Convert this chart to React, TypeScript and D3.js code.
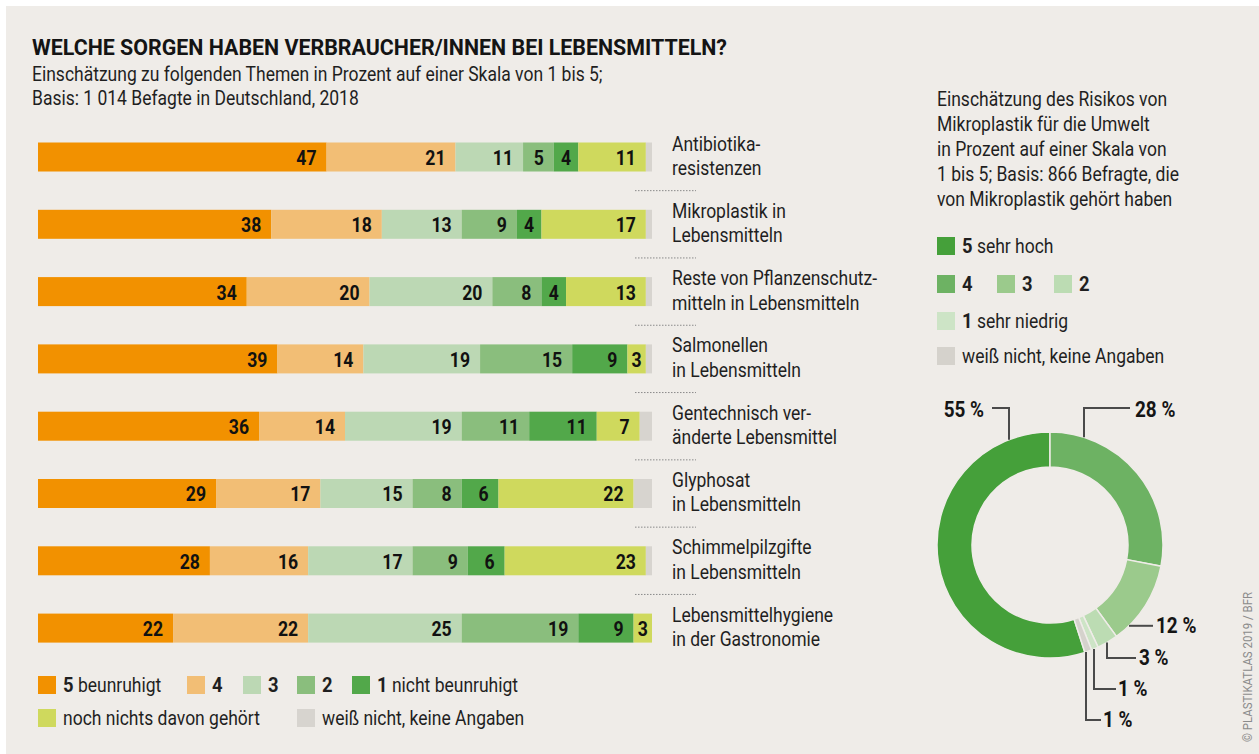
import React from "react";
import * as d3 from "d3";

// ---------- DATA ----------
const categories = [
  ["Antibiotika-", "resistenzen"],
  ["Mikroplastik in", "Lebensmitteln"],
  ["Reste von Pflanzenschutz-", "mitteln in Lebensmitteln"],
  ["Salmonellen", "in Lebensmitteln"],
  ["Gentechnisch ver-", "änderte Lebensmittel"],
  ["Glyphosat", "in Lebensmitteln"],
  ["Schimmelpilzgifte", "in Lebensmitteln"],
  ["Lebensmittelhygiene", "in der Gastronomie"],
];
const level5 = [47, 38, 34, 39, 36, 29, 28, 22];
const level4 = [21, 18, 20, 14, 14, 17, 16, 22];
const level3 = [11, 13, 20, 19, 19, 15, 17, 25];
const level2 = [5, 9, 8, 15, 11, 8, 9, 19];
const level1 = [4, 4, 4, 9, 11, 6, 6, 9];
const notHeard = [11, 17, 13, 3, 7, 22, 23, 3];
const noAnswer = [1, 1, 1, 1, 2, 3, 1, 0];

const seriesKeys = ["l5", "l4", "l3", "l2", "l1", "nh", "na"];
const seriesLegend = [
  { bold: "5", text: " beunruhigt" },
  { bold: "4", text: "" },
  { bold: "3", text: "" },
  { bold: "2", text: "" },
  { bold: "1", text: " nicht beunruhigt" },
  { bold: "", text: "noch nichts davon gehört" },
  { bold: "", text: "weiß nicht, keine Angaben" },
];

const donutKeys = ["r5", "r4", "r3", "r2", "r1", "na"];
const donutValues = [55, 28, 12, 3, 1, 1];
const donutLabels = ["55 %", "28 %", "12 %", "3 %", "1 %", "1 %"];
const donutLegend = [
  { bold: "5", text: " sehr hoch" },
  { bold: "4", text: "" },
  { bold: "3", text: "" },
  { bold: "2", text: "" },
  { bold: "1", text: " sehr niedrig" },
  { bold: "", text: "weiß nicht, keine Angaben" },
];

const title = "WELCHE SORGEN HABEN VERBRAUCHER/INNEN BEI LEBENSMITTELN?";
const subtitle = [
  "Einschätzung zu folgenden Themen in Prozent auf einer Skala von 1 bis 5;",
  "Basis: 1 014 Befagte in Deutschland, 2018",
];
const donutIntro = [
  "Einschätzung des Risikos von",
  "Mikroplastik für die Umwelt",
  "in Prozent auf einer Skala von",
  "1 bis 5; Basis: 866 Befragte, die",
  "von Mikroplastik gehört haben",
];
const credit = "© PLASTIKATLAS 2019 / BFR";

// ---------- STYLE ----------
const BG = "#efece8";
const TXT = "#1f1f1f";
const FONT = "Roboto, 'Noto Sans', sans-serif";
const barColors: Record<string, string> = {
  l5: "#f29100",
  l4: "#f2be75",
  l3: "#bcd8b4",
  l2: "#8abe7d",
  l1: "#52a84a",
  nh: "#cfd95d",
  na: "#d7d4cf",
};
const donutColors: Record<string, string> = {
  r5: "#45a03a",
  r4: "#6db263",
  r3: "#9bca8c",
  r2: "#bcdcb3",
  r1: "#cde4c6",
  na: "#d5d2cc",
};

const SX = 0.875;
const FS = 20;

function T(props: {
  x: number;
  y: number;
  size?: number;
  weight?: number;
  anchor?: string;
  fill?: string;
  sx?: number;
  children: React.ReactNode;
}) {
  const { x, y, size = FS, weight = 400, anchor = "start", fill = TXT, sx = SX, children } = props;
  return (
    <g transform={`translate(${x},${y}) scale(${sx},1)`}>
      <text x={0} y={0} fontSize={size} fontWeight={weight} textAnchor={anchor} fill={fill} fontFamily={FONT}>
        {children}
      </text>
    </g>
  );
}

function LegendItem({ x, y, color, bold, text }: { x: number; y: number; color: string; bold: string; text: string }) {
  return (
    <g>
      <rect x={x} y={y} width={18} height={18} fill={color} />
      <T x={x + 25} y={y + 16}>
        {bold ? (
          <tspan fontWeight={700} fontSize={21}>
            {bold}
          </tspan>
        ) : null}
        {text ? <tspan>{text}</tspan> : null}
      </T>
    </g>
  );
}

export default function App() {
  const W = 1259;
  const H = 754;

  const rows = categories.map((c, i) => ({
    key: c.join(" "),
    l5: level5[i],
    l4: level4[i],
    l3: level3[i],
    l2: level2[i],
    l1: level1[i],
    nh: notHeard[i],
    na: noAnswer[i],
  }));
  const stack = d3.stack<any>().keys(seriesKeys)(rows);

  const x = d3.scaleLinear().domain([0, 100]).range([38, 652]);
  const y = d3
    .scaleBand<string>()
    .domain(rows.map((r) => r.key))
    .range([142.5, 642.6])
    .paddingInner(0.569)
    .paddingOuter(0);
  const bw = y.bandwidth();
  const gap = y.step() - bw;

  // donut
  const cx = 1050,
    cy = 545,
    R = 113,
    r0 = 78;
  const total = d3.sum(donutValues);
  const pie = d3
    .pie<number>()
    .sort(null)
    .value((d) => d)
    .startAngle((-donutValues[0] / total) * Math.PI * 2)
    .endAngle((1 - donutValues[0] / total) * Math.PI * 2);
  const arcs = pie(donutValues);
  const arc = d3.arc<any>().innerRadius(r0).outerRadius(R);
  const yTop = (px: number) => cy - Math.sqrt(R * R - (px - cx) * (px - cx));
  const yBot = (px: number) => cy + Math.sqrt(R * R - (px - cx) * (px - cx));

  // leader layout (annotation positions)
  const leaders = [
    { pts: [[992, 408], [1009, 408], [1009, yTop(1009)]], tx: 984, ty: 417, anchor: "end" },
    { pts: [[1084, yTop(1084)], [1084, 408], [1130, 408]], tx: 1135, ty: 417, anchor: "start" },
    { pts: [[1129, yBot(1129)], [1153, yBot(1129)]], tx: 1156, ty: 633, anchor: "start" },
    { pts: [[1107, yBot(1107)], [1107, 658], [1136, 658]], tx: 1139, ty: 665, anchor: "start" },
    { pts: [[1094, yBot(1094)], [1094, 689], [1116, 689]], tx: 1118, ty: 696, anchor: "start" },
    { pts: [[1086, yBot(1086)], [1086, 720], [1101, 720]], tx: 1103, ty: 727, anchor: "start" },
  ];

  const legendPos = [
    [38, 676],
    [187, 676],
    [243, 676],
    [297, 676],
    [352, 676],
    [38, 709],
    [297, 709],
  ];
  const donutLegendPos = [
    [937, 237],
    [937, 275],
    [997, 275],
    [1054, 275],
    [937, 312],
    [937, 347],
  ];

  return (
    <svg width={W} height={H} style={{ position: "absolute", left: 0, top: 0, display: "block" }}>
      <rect x={0} y={0} width={W} height={H} fill="#ffffff" />
      <rect x={6} y={6} width={W - 6} height={H - 6} fill={BG} />

      {/* Title */}
      <text
        x={32}
        y={55}
        fontFamily={FONT}
        fontWeight={700}
        fontSize={22}
        fill="#141414"
        textLength={695}
        lengthAdjust="spacingAndGlyphs"
      >
        {title}
      </text>
      {subtitle.map((s, i) => (
        <T key={i} x={32} y={80.5 + i * 24}>
          {s}
        </T>
      ))}

      {/* Bars */}
      {stack.map((layer) => (
        <g key={layer.key}>
          {layer.map((seg, i) => {
            const key = rows[i].key;
            const x0 = x(seg[0]);
            const x1 = x(seg[1]);
            const w = x1 - x0;
            if (w <= 0) return null;
            const v = seg[1] - seg[0];
            const showLabel = layer.key !== "na";
            const label = String(v);
            const tw = label.length * 10;
            const pad = Math.min(10, Math.max(1, (w - tw) / 2));
            return (
              <g key={i}>
                <rect x={x0} y={y(key)} width={w} height={bw} fill={barColors[layer.key]} />
                {showLabel && (
                  <T x={x1 - pad} y={(y(key) as number) + bw / 2 + 8} size={21} weight={700} anchor="end" sx={0.84} fill="#111">
                    {label}
                  </T>
                )}
              </g>
            );
          })}
        </g>
      ))}

      {/* Category labels and separators */}
      {rows.map((r, i) => {
        const c = (y(r.key) as number) + bw / 2;
        return (
          <g key={r.key}>
            <T x={672} y={c - 6.5}>
              {categories[i][0]}
            </T>
            <T x={672} y={c + 18}>
              {categories[i][1]}
            </T>
            {i < rows.length - 1 && (
              <line
                x1={635}
                x2={696}
                y1={(y(r.key) as number) + bw + gap / 2}
                y2={(y(r.key) as number) + bw + gap / 2}
                stroke="#8a8a8a"
                strokeWidth={1}
                strokeDasharray="1.5,1.5"
              />
            )}
          </g>
        );
      })}

      {/* Bar legend */}
      {seriesKeys.map((k, i) => (
        <LegendItem
          key={k}
          x={legendPos[i][0]}
          y={legendPos[i][1]}
          color={barColors[k]}
          bold={seriesLegend[i].bold}
          text={seriesLegend[i].text}
        />
      ))}

      {/* Donut intro */}
      {donutIntro.map((s, i) => (
        <T key={i} x={937} y={106 + i * 25}>
          {s}
        </T>
      ))}
      {donutKeys.map((k, i) => (
        <LegendItem
          key={k}
          x={donutLegendPos[i][0]}
          y={donutLegendPos[i][1]}
          color={donutColors[k]}
          bold={donutLegend[i].bold}
          text={donutLegend[i].text}
        />
      ))}

      {/* Donut */}
      <g transform={`translate(${cx},${cy})`}>
        {arcs.map((a, i) => (
          <path key={i} d={arc(a) as string} fill={donutColors[donutKeys[i]]} stroke={BG} strokeWidth={1.5} />
        ))}
      </g>
      {leaders.map((l, i) => (
        <g key={i}>
          <polyline points={l.pts.map((p) => p.join(",")).join(" ")} fill="none" stroke="#4a4a4a" strokeWidth={2} />
          <T x={l.tx} y={l.ty} size={22} weight={700} anchor={l.anchor} sx={0.86} fill="#151515">
            {donutLabels[i]}
          </T>
        </g>
      ))}

      {/* Credit */}
      <g transform="translate(1252,742) rotate(-90)">
        <text x={0} y={0} fontFamily={FONT} fontSize={13} fill="#8b8b8b" textLength={150} lengthAdjust="spacingAndGlyphs">
          {credit}
        </text>
      </g>
    </svg>
  );
}
